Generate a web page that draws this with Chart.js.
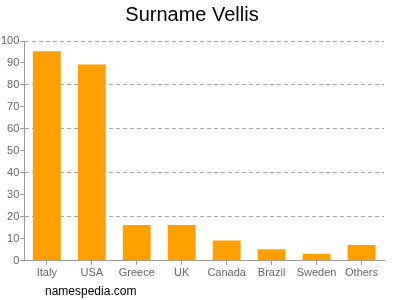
<!DOCTYPE html>
<html><head><meta charset="utf-8">
<script src="https://cdn.jsdelivr.net/npm/chart.js@4"></script>
<style>
html,body{margin:0;padding:0;background:#fff;}
#wrap{position:relative;width:400px;height:300px;}
#foot{position:absolute;left:45px;top:284px;font:12px "Liberation Sans",Arial,sans-serif;color:#000;}
</style></head>
<body>
<div id="wrap"><canvas id="c" width="400" height="300"></canvas><div id="foot">namespedia.com</div></div>
<script>
const categories = ["Italy","USA","Greece","UK","Canada","Brazil","Sweden","Others"];
const values = [95.3, 89.3, 16.3, 16.3, 9.2, 5.2, 3.2, 7.2];
const yTicks = [0,10,20,30,40,50,60,70,80,90,100];

new Chart(document.getElementById('c'), {
  type: 'bar',
  data: { labels: categories, datasets: [{ data: values, backgroundColor: '#ffa000', borderWidth: 0, categoryPercentage: 0.62, barPercentage: 1 }] },
  options: {
    responsive: false, animation: false,
    layout: { padding: { left: 0, right: 16, top: 0, bottom: 18 } },
    plugins: {
      legend: { display: false }, tooltip: { enabled: false },
      title: { display: true, text: 'Surname Vellis', color: '#000', font: { family: '"Liberation Sans", Arial, sans-serif', size: 20, weight: 'normal' }, padding: { top: 3, bottom: 14 } }
    },
    scales: {
      y: {
        min: 0, max: 100,
        afterBuildTicks: s => { s.ticks = yTicks.map(v => ({ value: v })); },
        ticks: { color: '#666', font: { family: '"Liberation Sans", Arial, sans-serif', size: 11 }, padding: 1 },
        grid: { color: c => (c.tick && c.tick.value % 20 === 0 && c.tick.value !== 0) ? '#aaa' : 'rgba(0,0,0,0)', tickColor: '#999', tickLength: 4, drawTicks: true },
        border: { display: true, color: '#999', dash: [4, 3] }
      },
      x: {
        ticks: { color: '#666', font: { family: '"Liberation Sans", Arial, sans-serif', size: 11 }, padding: 2, maxRotation: 0, minRotation: 0, autoSkip: false },
        grid: { offset: false, color: 'rgba(0,0,0,0)', tickColor: '#999', tickLength: 4 },
        border: { display: true, color: '#999' }
      }
    }
  }
});
</script>
</body></html>
